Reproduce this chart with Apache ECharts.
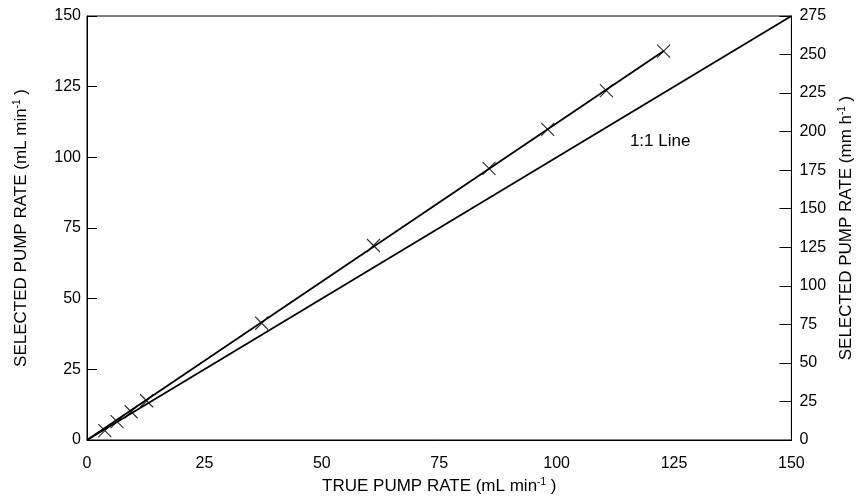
<!DOCTYPE html>
<html>
<head>
<meta charset="utf-8">
<script src="https://cdn.jsdelivr.net/npm/echarts@6/dist/echarts.min.js"></script>
<style>
  html, body { margin: 0; padding: 0; background: #fff; }
  #main { width: 863px; height: 500px; }
</style>
</head>
<body>
<div id="main"></div>
<script>
// measured points (true rate, selected rate), mL/min
var trueRate = [3.8, 6.4, 9.4, 12.7, 37.2, 61.0, 85.6, 98.1, 110.6, 122.8];
var selectedRate = [3.3, 6.5, 10.0, 13.9, 41.3, 68.8, 96.1, 109.9, 123.6, 137.6];
// fitted line ends
var fitX = [0, 122.8];
var fitY = [0, 137.6];
// 1:1 line ends
var oneX = [0, 150];
var oneY = [0, 150];
var leftTicks = [0, 25, 50, 75, 100, 125, 150];
var rightTicks = [0, 25, 50, 75, 100, 125, 150, 175, 200, 225, 250, 275];

var font = 'Liberation Sans, Arial, sans-serif';
var sup = { sup: { fontSize: 10, verticalAlign: 'top', lineHeight: 11, fontFamily: font, color: '#000' },
            n: { fontSize: 17, fontFamily: font, color: '#000', lineHeight: 19 } };

var chart = echarts.init(document.getElementById('main'));
var option = {
  animation: false,
  grid: { left: 87, right: 71, top: 16, bottom: 60, show: true, borderColor: '#000', borderWidth: 1 },
  xAxis: {
    type: 'value', min: 0, max: 150, interval: 25,
    name: '{n|TRUE PUMP RATE (mL min}{sup|-1}{n| )}',
    nameLocation: 'middle', nameGap: 31,
    nameTextStyle: { rich: sup },
    axisLine: { lineStyle: { color: '#000', width: 1 } },
    axisTick: { show: false },
    axisLabel: { color: '#000', fontSize: 16, fontFamily: font, margin: 16 },
    splitLine: { show: false }
  },
  yAxis: [{
    type: 'value', min: 0, max: 150, interval: 25,
    name: '{n|SELECTED PUMP RATE (mL min}{sup|-1}{n| )}',
    nameLocation: 'middle', nameGap: 56, nameRotate: 90,
    nameTextStyle: { rich: sup },
    axisLine: { show: true, lineStyle: { color: '#000', width: 1 } },
    axisTick: { show: true, inside: true, length: 10, lineStyle: { color: '#000' } },
    axisLabel: { color: '#000', fontSize: 16, fontFamily: font, margin: 6,
      formatter: function (v) { return leftTicks.indexOf(v) >= 0 ? String(v) : ''; } },
    splitLine: { show: false }
  }, {
    type: 'value', min: 0, max: 275, interval: 25, position: 'right',
    name: '{n|SELECTED PUMP RATE (mm h}{sup|-1}{n| )}',
    nameLocation: 'middle', nameGap: 40, nameRotate: 90,
    nameTextStyle: { rich: sup },
    axisLine: { show: true, lineStyle: { color: '#000', width: 1 } },
    axisTick: { show: true, inside: true, length: 12, lineStyle: { color: '#000' } },
    axisLabel: { color: '#000', fontSize: 16, fontFamily: font, margin: 8,
      formatter: function (v) { return rightTicks.indexOf(v) >= 0 ? String(v) : ''; } },
    splitLine: { show: false }
  }],
  series: [{
    name: '1:1 Line', type: 'line', yAxisIndex: 0,
    data: oneX.map(function (x, i) { return [x, oneY[i]]; }),
    showSymbol: false, lineStyle: { color: '#000', width: 1.8 },
    markPoint: {
      symbol: 'circle', symbolSize: 1,
      itemStyle: { color: 'rgba(0,0,0,0)' },
      label: { show: true, formatter: '1:1 Line', color: '#000', fontSize: 17, fontFamily: font, position: 'right', distance: 0 },
      data: [{ coord: [115.5, 105.8] }]
    }
  }, {
    name: 'fit', type: 'line', yAxisIndex: 0,
    data: fitX.map(function (x, i) { return [x, fitY[i]]; }),
    showSymbol: false, lineStyle: { color: '#000', width: 1.8 }
  }, {
    name: 'measured', type: 'scatter', yAxisIndex: 0,
    data: trueRate.map(function (x, i) { return [x, selectedRate[i]]; }),
    symbol: 'path://M0,0L10,10M10,0L0,10', symbolSize: 13,
    itemStyle: { color: 'none', borderColor: '#000', borderWidth: 1.2 }
  }]
};
chart.setOption(option);
</script>
</body>
</html>
